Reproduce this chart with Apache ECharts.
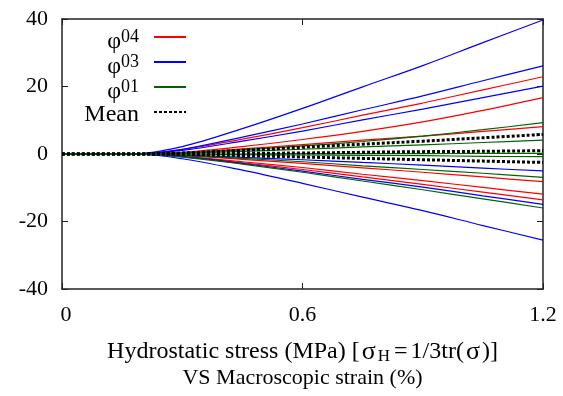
<!DOCTYPE html>
<html>
<head>
<meta charset="utf-8">
<script src="https://cdn.jsdelivr.net/npm/echarts@6/dist/echarts.min.js"></script>
<style>
  html, body { margin: 0; padding: 0; background: #fff; }
  #chart { width: 563px; height: 396px; }
</style>
</head>
<body>
<div id="chart"></div>
<script>
// strain (%) sample points
var xs = [0, 0.18, 0.3, 0.45, 0.6, 0.75, 0.9, 1.05, 1.2];

// phase 04 (red)
var red = [
    [0, 0, 1.3, 4.4, 7.8, 11.5, 15.1, 19.0, 22.9],
    [0, 0, 0.5, 2.2, 4.3, 6.7, 9.5, 12.9, 16.7],
    [0, 0, 0.4, 1.5, 2.8, 4.1, 5.3, 6.7, 8.1],
    [0, 0, -0.5, -1.6, -2.8, -4.1, -5.4, -6.8, -8.2],
    [0, 0, -0.7, -2.3, -4.0, -6.0, -7.9, -9.9, -11.9],
    [0, 0, -0.7, -2.6, -4.6, -6.8, -9.0, -11.3, -13.6]
];
// phase 03 (blue)
var blue = [
    [0, 0, 2.2, 7.5, 13.5, 19.9, 26.2, 33.0, 39.7],
    [0, 0, 1.4, 5.0, 8.9, 13.1, 17.2, 21.7, 26.1],
    [0, 0, 1.1, 3.8, 6.8, 10.1, 13.3, 16.7, 20.1],
    [0, 0, -0.3, -1.0, -1.7, -2.5, -3.3, -4.2, -5.0],
    [0, 0, -0.8, -2.8, -5.1, -7.5, -9.8, -12.4, -14.9],
    [0, 0, -1.4, -4.8, -8.7, -12.8, -16.8, -21.2, -25.5]
];
// phase 01 (green)
var green = [
    [0, 0, 0.3, 1.2, 2.4, 3.7, 5.3, 7.2, 9.3],
    [0, 0, 0.2, 0.8, 1.4, 2.1, 2.7, 3.4, 4.1],
    [0, 0, 0, 0, 0.1, 0.1, 0.1, 0.2, 0.2],
    [0, 0, 0, -0.2, -0.3, -0.4, -0.5, -0.7, -0.8],
    [0, 0, -0.4, -1.3, -2.3, -3.5, -4.6, -5.7, -6.9],
    [0, 0, -0.9, -3.0, -5.4, -8.0, -10.6, -13.3, -16.0]
];
// mean (black dotted)
var mean = [
    [0, 0, 0.3, 1.1, 2.0, 2.9, 3.8, 4.8, 5.8],
    [0, 0, 0.1, 0.2, 0.3, 0.5, 0.7, 0.8, 1.0],
    [0, 0, -0.1, -0.5, -0.9, -1.3, -1.7, -2.1, -2.5]
];

var xTicks = [0, 0.6, 1.2];
var yTicks = [-40, -20, 0, 20, 40];

var legendNames = ['φ04', 'φ03', 'φ01', 'Mean'];
var legendSup = { 'φ04': '04', 'φ03': '03', 'φ01': '01' };

var FONT = 'Liberation Serif';

function makeSeries(list, name, color, dotted) {
    return list.map(function (vals) {
        return {
            name: name,
            type: 'line',
            data: vals.map(function (v, i) { return [xs[i], v]; }),
            smooth: 0.35,
            symbol: 'none',
            showSymbol: false,
            animation: false,
            lineStyle: dotted
                ? { color: color, width: 3, type: [3, 2], cap: 'butt' }
                : { color: color, width: 1.2 },
            itemStyle: { color: color }
        };
    });
}

var series = []
    .concat(makeSeries(red, 'φ04', '#ff0000', false))
    .concat(makeSeries(blue, 'φ03', '#0000ff', false))
    .concat(makeSeries(green, 'φ01', '#006400', false))
    .concat(makeSeries(mean, 'Mean', '#000000', true));

var axisLine = { show: true, onZero: false, lineStyle: { color: '#222', width: 1.5 } };
var axisTick = { show: true, inside: true, length: 6, lineStyle: { color: '#222' } };

var chart = echarts.init(document.getElementById('chart'), null, { renderer: 'canvas' });
chart.setOption({
    animation: false,
    backgroundColor: '#fff',
    grid: { left: 62, top: 19, right: 20, bottom: 107 },
    legend: {
        data: legendNames,
        orient: 'vertical',
        align: 'right',
        right: 376,
        top: 20,
        padding: 0,
        itemGap: -9,
        itemWidth: 32,
        itemHeight: 14,
        selectedMode: false,
        itemStyle: { opacity: 0 },
        formatter: function (n) {
            if (legendSup[n]) return '{p|φ}{s|' + legendSup[n] + '}';
            return '{m|' + n + '}';
        },
        textStyle: {
            fontFamily: FONT,
            color: '#000',
            fontSize: 24,
            rich: {
                p: { fontFamily: FONT, fontSize: 24, lineHeight: 24, padding: [10, 0, 0, 0] },
                s: { fontFamily: FONT, fontSize: 18, lineHeight: 18, verticalAlign: 'top', padding: [3, 10, 0, 0] },
                m: { fontFamily: FONT, fontSize: 24, lineHeight: 24, padding: [8, 10, 2, 0] }
            }
        }
    },
    xAxis: [{
        type: 'value',
        min: 0, max: 1.2, interval: 0.6,
        axisLine: axisLine,
        axisTick: axisTick,
        splitLine: { show: false },
        axisLabel: {
            margin: 15, fontFamily: FONT, fontSize: 22, color: '#000',
            formatter: function (v) {
                if (v === 0) return '{z|0}';
                return xTicks.indexOf(v) >= 0 ? String(v) : '';
            },
            rich: { z: { fontFamily: FONT, fontSize: 22, color: '#000', padding: [0, 0, 0, 8] } }
        },
        name: '{a|Hydrostatic stress (MPa) [}{g|σ}{sub|H}{e|=}{a|1/3tr(}{g|σ}{a|)]}\nVS Macroscopic strain (%)',
        nameLocation: 'middle',
        nameGap: 50,
        nameTextStyle: {
            fontFamily: FONT, fontSize: 22, color: '#000', lineHeight: 26,
            rich: {
                a: { fontFamily: FONT, fontSize: 24, color: '#000', lineHeight: 26 },
                g: { fontFamily: FONT, fontSize: 26, color: '#000', lineHeight: 26, padding: [0, 2, 0, 2] },
                e: { fontFamily: FONT, fontSize: 24, color: '#000', lineHeight: 26, padding: [0, 3, 0, 3] },
                sub: { fontFamily: FONT, fontSize: 17, color: '#000', lineHeight: 16, padding: [10, 1, 0, 0] }
            }
        }
    }, {
        type: 'value',
        position: 'top',
        min: 0, max: 1.2, interval: 0.6,
        axisLine: axisLine,
        axisTick: axisTick,
        axisLabel: { show: false },
        splitLine: { show: false }
    }],
    yAxis: [{
        type: 'value',
        min: -40, max: 40, interval: 20,
        axisLine: axisLine,
        axisTick: axisTick,
        splitLine: { show: false },
        axisLabel: {
            margin: 14, fontFamily: FONT, fontSize: 22, color: '#000',
            formatter: function (v) { return yTicks.indexOf(v) >= 0 ? String(v) : ''; }
        }
    }, {
        type: 'value',
        position: 'right',
        min: -40, max: 40, interval: 20,
        axisLine: axisLine,
        axisTick: axisTick,
        axisLabel: { show: false },
        splitLine: { show: false }
    }],
    series: series
});
</script>
</body>
</html>
